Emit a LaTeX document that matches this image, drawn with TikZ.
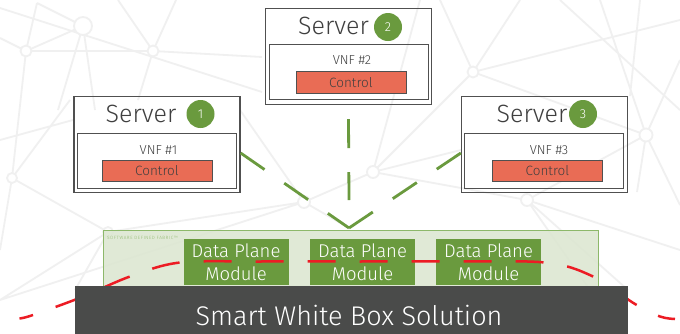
\documentclass[tikz,border=0pt]{standalone}
\usepackage{fontspec}
\setmainfont{Fira Sans Light}
\usetikzlibrary{calc}

\definecolor{leaf}{HTML}{6A9A3E}
\definecolor{leaflight}{HTML}{DDE7D2}
\definecolor{leafedge}{HTML}{8DB86A}
\definecolor{tomato}{HTML}{E96C55}
\definecolor{inkgray}{HTML}{505050}
\definecolor{labelgray}{HTML}{3F3F3F}
\definecolor{slate}{HTML}{4A4B4A}
\definecolor{alarm}{HTML}{EC1C24}
\definecolor{mesh}{HTML}{F0F0F0}

\tikzset{
  serverbox/.style={draw=inkgray, line width=1.3pt, minimum width=166pt, minimum height=96pt, inner sep=0pt},
  vnfbox/.style={draw=inkgray, line width=0.9pt, minimum width=159pt, minimum height=55pt, inner sep=0pt},
  ctlbox/.style={draw=inkgray, line width=0.9pt, fill=tomato, minimum width=110pt, minimum height=21.5pt,
    inner sep=0pt, text=labelgray, font=\fontsize{13.5}{13.5}\selectfont},
  srvlabel/.style={text=labelgray, inner sep=0pt, font=\fontsize{25}{25}\selectfont},
  vnflabel/.style={text=labelgray, inner sep=0pt, font=\fontsize{13}{13}\selectfont},
  badge/.style={circle, fill=leaf, minimum size=28pt, inner sep=0pt, text=white, font=\fontsize{13}{13}\selectfont},
  dpmodule/.style={fill=leaf, minimum width=105pt, minimum height=46pt, inner sep=0pt, text=white,
    align=center, font=\fontsize{18.5}{22.5}\selectfont},
  gdash/.style={draw=leaf, line width=2.8pt, dash pattern=on 29pt off 24pt},
  rdash/.style={draw=alarm, line width=2.5pt, dash pattern=on 28pt off 24pt},
  meshline/.style={draw=mesh, line width=1.8pt},
  meshdot/.style={circle, draw=mesh, line width=1.8pt, fill=white, inner sep=0pt},
}

\begin{document}
\begin{tikzpicture}[x=1pt, y=-1pt]
\useasboundingbox (0,0) rectangle (680,333);
\fill[white] (0,0) rectangle (680,333);

% faint network pattern in the background
\coordinate (m1) at (37,3);
\coordinate (m2) at (83,26);
\coordinate (m3) at (26,51);
\coordinate (m4) at (153,51);
\coordinate (m5) at (473,72);
\coordinate (m6) at (373,172);
\coordinate (m7) at (304,202);
\coordinate (m8) at (646,135);
\coordinate (m9) at (527,200);
\coordinate (m10) at (108,232);
\coordinate (m11) at (12,178);
\draw[meshline] (m1) -- (m2) (m1) -- (m3) (m2) -- (m3)
  (m2) -- (95,110) (m2) -- (58,110) (m3) -- (0,38) (m3) -- (m11) (m3) -- (m4)
  (m4) -- (118,0) (m4) -- (176,0) (m4) -- (262,57) (m4) -- (138,100)
  (0,8) -- (262,92) (m11) -- (0,250) (m11) -- (70,100) (m11) -- (m10)
  (m10) -- (0,300) (m10) -- (75,290) (m10) -- (m7)
  (m5) -- (440,0) (m5) -- (520,0) (m5) -- (m8) (m5) -- (m6) (m5) -- (680,20)
  (m6) -- (m7) (m6) -- (420,0) (m6) -- (m9) (m6) -- (461,150)
  (m7) -- (240,110) (m7) -- (349,228) (m7) -- (0,300)
  (m9) -- (m8) (m9) -- (680,250) (m9) -- (620,333) (m9) -- (628,290)
  (m8) -- (680,60) (m8) -- (600,0) (m8) -- (680,205) (m8) -- (637,192)
  (560,0) -- (680,110) (640,0) -- (630,96) (0,140) -- (73,120);
\node[meshdot, minimum size=18pt] (d2) at (m2) {};
\foreach \d/\s in {m3/11,m4/11,m5/11,m6/12,m7/12,m8/13,m9/12,m10/10,m11/10}
  \node[meshdot, minimum size=\s pt] at (\d) {};

% servers
\node[serverbox] (srv1) at (157,144.5) {};
\node[vnfbox] (vnf1) at (157,160.5) {};
\node[ctlbox] (ctl1) at (157,171) {Control};
\node[vnflabel] (vnf1t) at (158.5,150) {VNF \#1};
\node[srvlabel] (srv1t) at (141,114) {Server};
\node[badge] (b1) at (200.5,114) {1};

\node[serverbox] (srv2) at (348.5,56.5) {};
\node[vnfbox] (vnf2) at (348.5,72) {};
\node[ctlbox] (ctl2) at (351,82.5) {Control};
\node[vnflabel] (vnf2t) at (352,60) {VNF \#2};
\node[srvlabel] (srv2t) at (333.5,26) {Server};
\node[badge] (b2) at (388,27) {2};

\node[serverbox] (srv3) at (544.5,144.5) {};
\node[vnfbox] (vnf3) at (544,160.5) {};
\node[ctlbox] (ctl3) at (547.5,171) {Control};
\node[vnflabel] (vnf3t) at (549,150) {VNF \#3};
\node[srvlabel] (srv3t) at (532,114) {Server};
\node[badge] (b3) at (583,114) {3};

% control links converging on the fabric
\coordinate (apex) at (349,228);
\coordinate (vend) at (349,200);
\draw[gdash] ([yshift=-8.5pt]srv1.east) -- (apex);
\draw[gdash] ([yshift=-8.5pt]srv3.west) -- (apex);
\draw[gdash] ([yshift=-14pt]srv2.south) -- (vend);

% software defined fabric
\node[fill=leaflight, draw=leafedge, line width=1pt, minimum width=494.5pt, minimum height=70pt,
  inner sep=0pt, fill opacity=0.9, draw opacity=1] (fabric) at (351.2,265) {};
\node[anchor=west, inner sep=0pt, text=leafedge,
  font=\fontsize{4.6}{4.6}\selectfont\addfontfeature{LetterSpace=12}] (fabrict)
  at (107,238) {SOFTWARE DEFINED FABRIC™};

\node[dpmodule] (dp1) at (236,262) {Data Plane\\Module};
\node[dpmodule] (dp2) at (362.5,262) {Data Plane\\Module};
\node[dpmodule] (dp3) at (488.5,262) {Data Plane\\Module};

% data path running across the modules
\draw[rdash, dash phase=14pt] plot[smooth, tension=0.55] coordinates {
  (19.5,318.5) (33,315) (82,297) (130,276.5) (180,262.5) (260,261.5) (349,261.5)
  (450,261.5) (545,262.5) (592,276) (635,304) (660,316.5) (675,319) };

% platform
\node[fill=slate, minimum width=553pt, minimum height=58pt, inner sep=0pt] (swb) at (351.5,315) {};
\node[text=white, inner sep=0pt, font=\fontsize{27}{27}\selectfont] (swbt) at (349,315) {Smart White Box Solution};
\end{tikzpicture}
\end{document}
